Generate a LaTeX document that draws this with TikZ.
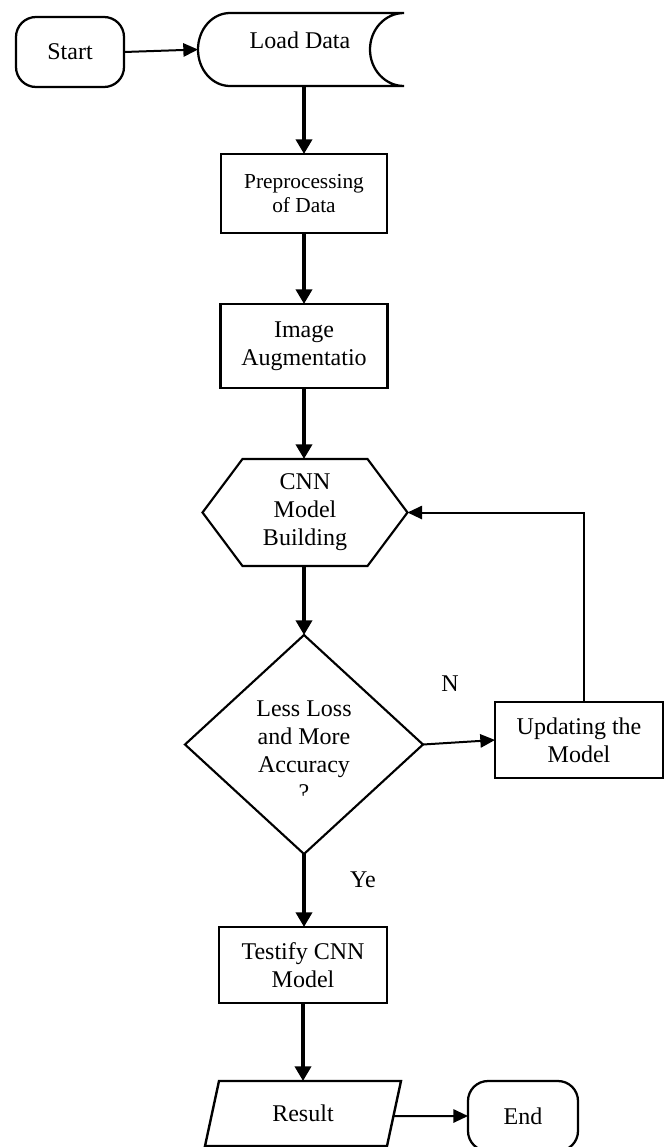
\documentclass[tikz,border=0pt]{standalone}
\usepackage{fontspec}
\setmainfont{Liberation Serif}
\usetikzlibrary{arrows.meta,calc}
\begin{document}
\begin{tikzpicture}[x=0.75pt,y=-0.75pt,
  every node/.style={font=\fontsize{18}{21}\selectfont, inner sep=0pt, outer sep=0pt},
  procbox/.style={draw, line width=1.8pt, align=center},
  terminal/.style={draw, line width=1.7pt, rounded corners=15pt, align=center},
  ghost/.style={draw=none, align=center},
  outline/.style={line width=1.6pt, line join=miter},
  thickarrow/.style={line width=3.2pt, -{Triangle[length=11pt,width=12pt]}},
  thinarrow/.style={line width=1.5pt, -{Triangle[length=11pt,width=10pt]}},
  tag/.style={font=\fontsize{18}{21}\selectfont}
]
\useasboundingbox (0,0) rectangle (667,1147);
\clip (0,0) rectangle (667,1147);

% Start
\node[terminal, minimum width=81pt, minimum height=52.5pt] (start) at (70,52) {Start};

% Load Data (stored data shape)
\node[ghost, minimum width=154.5pt, minimum height=54.75pt] (load) at (301,49.5) {};
\draw[outline, line width=1.7pt] (230,13) -- (404,13)
  .. controls (385.2,13) and (370,29.3) .. (370,49.5)
  .. controls (370,69.7) and (385.2,86) .. (404,86)
  -- (230,86)
  .. controls (212.3,86) and (198,69.7) .. (198,49.5)
  .. controls (198,29.3) and (212.3,13) .. cycle;
\node (loadtxt) at (300,40) {Load Data};

% Preprocessing
\node[procbox, minimum width=124.5pt, minimum height=59.25pt,
      font=\fontsize{16}{18}\selectfont] (pre) at (304,193.5) {Preprocessing\\of Data};

% Image Augmentation
\node[procbox, minimum width=125.25pt, minimum height=63pt] (img) at (304,346) {Image\\Augmentatio};

% CNN Model Building (hexagon)
\node[ghost, minimum width=153.75pt, minimum height=80.25pt] (hex) at (305,512.5) {CNN\\Model\\Building};
\draw[outline] (hex.west) -- ([xshift=30pt]hex.north west) -- ([xshift=-30pt]hex.north east)
  -- (hex.east) -- ([xshift=-30pt]hex.south east) -- ([xshift=30pt]hex.south west) -- cycle;

% Decision diamond
\node[ghost, minimum width=178.5pt, minimum height=164.25pt] (dia) at (304,744.5) {};
\draw[outline] (dia.north) -- (dia.east) -- (dia.south) -- (dia.west) -- cycle;
\node[ghost] (dtext) at (304,739.4) {Less Loss\\and More\\Accuracy};
\begin{scope}
  \clip (250,770) rectangle (360,795.5);
  \node[anchor=base] (qm) at (304,800) {?};
\end{scope}

% Updating the Model
\node[procbox, minimum width=126pt, minimum height=57pt] (upd) at (579,740) {Updating the\\Model};

% Testify CNN Model
\node[procbox, minimum width=126pt, minimum height=57pt] (test) at (303,965) {Testify CNN\\Model};

% Result (parallelogram)
\node[ghost, minimum width=147pt, minimum height=48.75pt] (result) at (303,1113.5) {Result};
\draw[outline, line width=1.8pt] ([xshift=10.5pt]result.north west) -- (result.north east)
  -- ([xshift=-10.5pt]result.south east) -- (result.south west) -- cycle;

% End
\node[terminal, minimum width=82.5pt, minimum height=52.5pt] (end) at (523,1116) {End};

% Connectors
\draw[thinarrow] (start.east) -- (load.west);
\draw[thickarrow] (load.south -| pre.north) -- (pre.north);
\draw[thickarrow] (pre.south) -- (img.north);
\draw[thickarrow] (img.south) -- (img.south |- hex.north);
\draw[thickarrow] (hex.south -| dia.north) -- (dia.north);
\draw[thinarrow] (dia.east) -- (upd.west);
\draw[thinarrow] ([xshift=3.75pt]upd.north) |- (hex.east);
\draw[thickarrow] (dia.south) -- (dia.south |- test.north);
\draw[thickarrow] (test.south -| result.north) -- (result.north);
\draw[thinarrow] ([xshift=-5.25pt,yshift=-1.9pt]result.east) -- (end.west);

% Labels
\node[tag] (nlabel) at (450,684) {N};
\node[tag] (ylabel) at (363,880) {Ye};
\end{tikzpicture}
\end{document}
